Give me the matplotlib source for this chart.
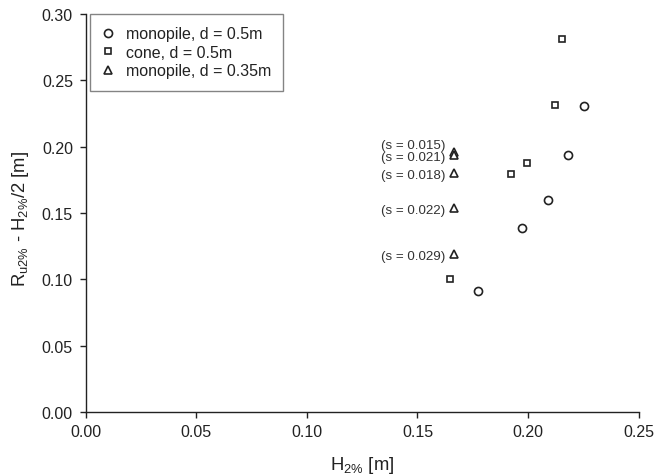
import matplotlib

matplotlib.use("Agg")

import matplotlib.pyplot as plt

plt.rcParams["font.family"] = ["Liberation Sans", "DejaVu Sans"]
plt.rcParams["mathtext.default"] = "regular"

# monopile, d = 0.5m
mono_h = [0.2251, 0.2182, 0.2089, 0.1974, 0.1775]
mono_r = [0.2305, 0.1940, 0.1601, 0.1390, 0.0913]

# cone, d = 0.5m
cone_h = [0.2154, 0.2120, 0.1993, 0.1924, 0.1645]
cone_r = [0.2808, 0.2315, 0.1873, 0.1797, 0.1001]

# monopile, d = 0.35m, with wave steepness labels
small_h = [0.1664, 0.1664, 0.1664, 0.1664, 0.1664]
small_r = [0.1958, 0.1938, 0.1800, 0.1536, 0.1190]
small_s = ["(s = 0.015)", "(s = 0.021)", "(s = 0.018)", "(s = 0.022)", "(s = 0.029)"]

INK = "#222222"

fig = plt.figure(figsize=(6.56, 4.77), dpi=100)
ax = fig.add_axes([0.1306, 0.1342, 0.9736 - 0.1306, 0.9686 - 0.1342])

mk = dict(linestyle="none", markerfacecolor="white", markeredgecolor=INK,
          markeredgewidth=1.2, color=INK)
ax.plot(mono_h, mono_r, marker="o", markersize=5.8, label="monopile, d = 0.5m", **mk)
ax.plot(cone_h, cone_r, marker="s", markersize=5.0, label="cone, d = 0.5m", **mk)
ax.plot(small_h, small_r, marker="^", markersize=5.2, label="monopile, d = 0.35m", **mk)

# steepness labels left of the triangles; first one lifted to avoid overlap
for i, (h, r, s) in enumerate(zip(small_h, small_r, small_s)):
    dy = 5.5 if i == 0 else -1.5
    ax.annotate(s, xy=(h, r), xytext=(-6, dy), textcoords="offset points",
                ha="right", va="center", fontsize=9.6, color="#333333")

ax.set_xlim(0, 0.25)
ax.set_ylim(0, 0.30)
ax.set_xticks([0.0, 0.05, 0.10, 0.15, 0.20, 0.25])
ax.set_yticks([0.0, 0.05, 0.10, 0.15, 0.20, 0.25, 0.30])
ax.xaxis.set_major_formatter(matplotlib.ticker.FormatStrFormatter("%.2f"))
ax.yaxis.set_major_formatter(matplotlib.ticker.FormatStrFormatter("%.2f"))

for side in ("top", "right"):
    ax.spines[side].set_visible(False)
for side in ("left", "bottom"):
    ax.spines[side].set_color(INK)
    ax.spines[side].set_linewidth(1.0)
ax.tick_params(direction="out", length=4.2, width=1.0, color=INK,
               labelsize=11.5, labelcolor=INK)
ax.tick_params(axis="y", pad=5)
ax.tick_params(axis="x", pad=4.5)

ax.set_xlabel(r"H$_{2\%}$ [m]", fontsize=13.3, color=INK, va="center")
ax.set_ylabel(r"R$_{u2\%}$ - H$_{2\%}$/2 [m]", fontsize=13.3, color=INK, va="center")
ax.xaxis.set_label_coords(0.5, -0.131)
ax.yaxis.set_label_coords(-0.1175, 0.487)

leg = ax.legend(loc="upper left", bbox_to_anchor=(0.008, 1.0), fontsize=11.5,
                frameon=True, fancybox=False, handlelength=0.65, handletextpad=0.8,
                labelspacing=0.22, borderpad=0.78, borderaxespad=0.0)
leg.get_frame().set_edgecolor("#666666")
leg.get_frame().set_linewidth(1.0)
for t in leg.get_texts():
    t.set_color(INK)

fig.savefig("out.png", dpi=100)
plt.close(fig)
